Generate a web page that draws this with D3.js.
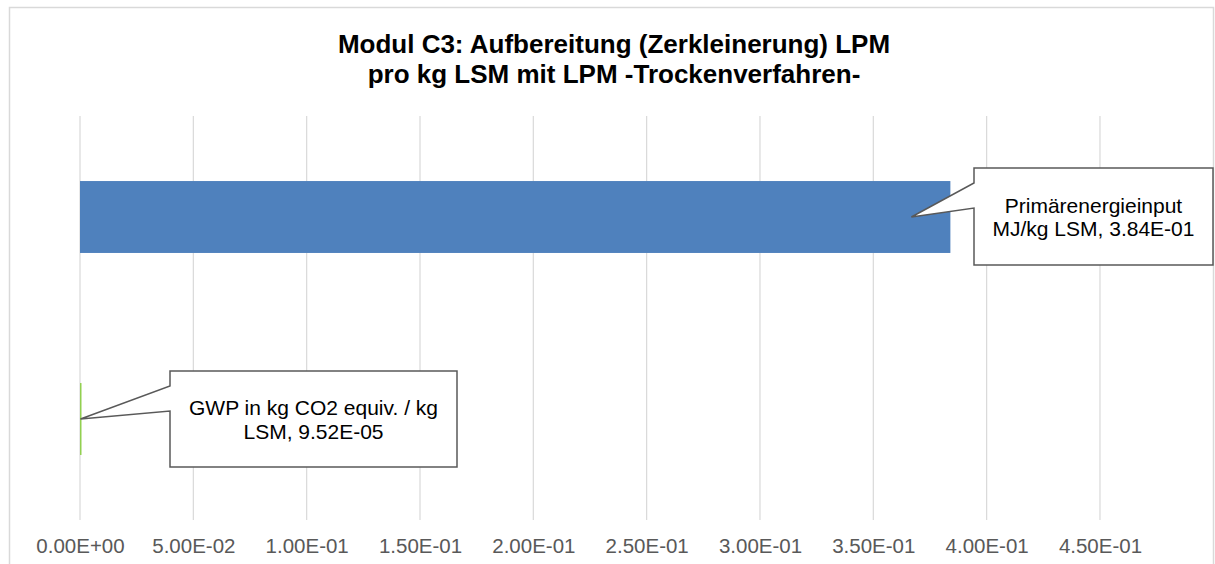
<!DOCTYPE html>
<html>
<head>
<meta charset="utf-8">
<script src="https://cdn.jsdelivr.net/npm/d3@7"></script>
<style>
  body { margin: 0; background: #fff; }
  svg { display: block; font-family: "Liberation Sans", Arial, sans-serif; }
</style>
</head>
<body>
<svg width="1215" height="564"></svg>
<script>
// data
var categories = ['Primärenergieinput MJ/kg LSM', 'GWP in kg CO2 equiv. / kg LSM'];
var values = [3.84e-1, 9.52e-5];
var colors = ['#4F81BD', '#92D050'];
var labelLines = [['Primärenergieinput', 'MJ/kg LSM, 3.84E-01'], ['GWP in kg CO2 equiv. / kg', 'LSM, 9.52E-05']];
var tickValues = [0, 0.05, 0.1, 0.15, 0.2, 0.25, 0.3, 0.35, 0.4, 0.45];
var tickLabels = ['0.00E+00', '5.00E-02', '1.00E-01', '1.50E-01', '2.00E-01', '2.50E-01', '3.00E-01', '3.50E-01', '4.00E-01', '4.50E-01'];
var titleLines = ['Modul C3: Aufbereitung (Zerkleinerung) LPM', 'pro kg LSM mit LPM -Trockenverfahren-'];

var svg = d3.select('svg');

// chart border
svg.append('rect').attr('x', 9.5).attr('y', 7.5).attr('width', 1204).attr('height', 600)
  .attr('fill', 'white').attr('stroke', '#D9D9D9').attr('stroke-width', 1.5);

var x = d3.scaleLinear().domain([0, 0.5]).range([80, 1213.3]);
var y = d3.scaleBand().domain(categories).range([116, 520]).paddingInner(0.644).paddingOuter(0.322);

// gridlines
svg.append('g').selectAll('line').data(tickValues).join('line')
  .attr('x1', d => x(d)).attr('x2', d => x(d))
  .attr('y1', 116).attr('y2', 520)
  .attr('stroke', '#D9D9D9').attr('stroke-width', 1.2);

// axis labels
var ax = svg.append('g').attr('transform', 'translate(0,520)')
  .call(d3.axisBottom(x).tickValues(tickValues).tickSize(0).tickPadding(0)
    .tickFormat((d, i) => tickLabels[i]));
ax.select('.domain').remove();
ax.selectAll('text').attr('dy', null).attr('y', 33)
  .attr('font-size', '20.5px').attr('font-family', '"Liberation Sans", Arial, sans-serif')
  .attr('fill', '#595959');

// bars
svg.append('g').selectAll('rect').data(values).join('rect')
  .attr('x', x(0))
  .attr('y', (d, i) => y(categories[i]))
  .attr('width', d => Math.max(x(d) - x(0), 1.5))
  .attr('height', y.bandwidth())
  .attr('fill', (d, i) => colors[i]);

// callouts
var boxes = [
  {x0: 974, y0: 168, x1: 1213, y1: 265},
  {x0: 170, y0: 371, x1: 457, y1: 467}
];
values.forEach(function(v, i) {
  var b = boxes[i];
  var tx = i === 0 ? x(v) - 39 : x(0) + 0.5;
  var ty = y(categories[i]) + y.bandwidth() / 2;
  var ya = b.y0 + 15, yb = b.y0 + 40;
  var path = 'M' + b.x0 + ',' + b.y0 + 'L' + b.x1 + ',' + b.y0 + 'L' + b.x1 + ',' + b.y1 +
    'L' + b.x0 + ',' + b.y1 + 'L' + b.x0 + ',' + yb + 'L' + tx + ',' + ty + 'L' + b.x0 + ',' + ya + 'Z';
  svg.append('path').attr('d', path).attr('fill', 'white')
    .attr('stroke', '#595959').attr('stroke-width', 1.5).attr('stroke-linejoin', 'miter');
  var cx = (b.x0 + b.x1) / 2, cy = (b.y0 + b.y1) / 2;
  svg.append('g').selectAll('text').data(labelLines[i]).join('text')
    .attr('x', cx).attr('y', (d, j) => cy - 4 + j * 23.5)
    .attr('text-anchor', 'middle').attr('font-size', '21px').attr('fill', '#000')
    .text(d => d);
});

// title
svg.append('g').selectAll('text').data(titleLines).join('text')
  .attr('x', 614).attr('y', (d, i) => 53 + i * 30)
  .attr('text-anchor', 'middle').attr('font-size', '26px').attr('font-weight', 'bold')
  .attr('fill', '#000').text(d => d);
</script>
</body>
</html>
